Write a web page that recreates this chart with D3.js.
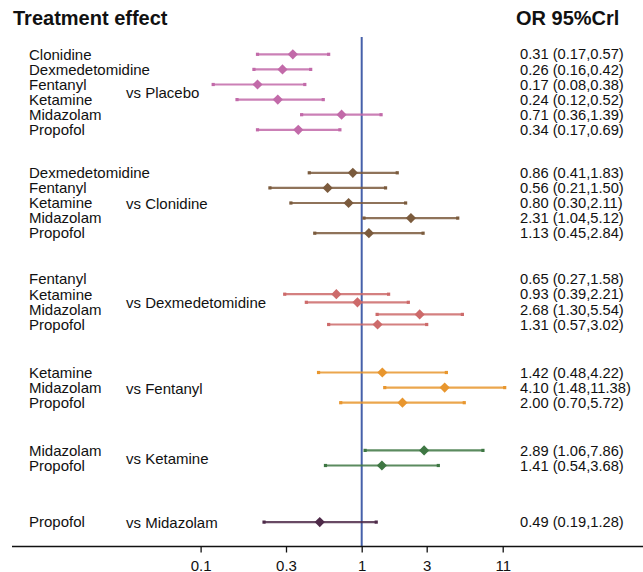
<!DOCTYPE html>
<html>
<head>
<meta charset="utf-8">
<script src="https://cdn.jsdelivr.net/npm/d3@7"></script>
<style>
  body { margin: 0; background: #fff; }
  text { font-family: Arial, "Liberation Sans", sans-serif; fill: #111; }
</style>
</head>
<body>
<script>
// Data: comparisons grouped by reference treatment
const comparators = ['Placebo', 'Clonidine', 'Dexmedetomidine', 'Fentanyl', 'Ketamine', 'Midazolam'];
const treatments = [
  ['Clonidine', 'Dexmedetomidine', 'Fentanyl', 'Ketamine', 'Midazolam', 'Propofol'],
  ['Dexmedetomidine', 'Fentanyl', 'Ketamine', 'Midazolam', 'Propofol'],
  ['Fentanyl', 'Ketamine', 'Midazolam', 'Propofol'],
  ['Ketamine', 'Midazolam', 'Propofol'],
  ['Midazolam', 'Propofol'],
  ['Propofol']
];
const orMean = [
  [0.31, 0.26, 0.17, 0.24, 0.71, 0.34],
  [0.86, 0.56, 0.80, 2.31, 1.13],
  [0.65, 0.93, 2.68, 1.31],
  [1.42, 4.10, 2.00],
  [2.89, 1.41],
  [0.49]
];
const orLow = [
  [0.17, 0.16, 0.08, 0.12, 0.36, 0.17],
  [0.41, 0.21, 0.30, 1.04, 0.45],
  [0.27, 0.39, 1.30, 0.57],
  [0.48, 1.48, 0.70],
  [1.06, 0.54],
  [0.19]
];
const orHigh = [
  [0.57, 0.42, 0.38, 0.52, 1.39, 0.69],
  [1.83, 1.50, 2.11, 5.12, 2.84],
  [1.58, 2.21, 5.54, 3.02],
  [4.22, 11.38, 5.72],
  [7.86, 3.68],
  [1.28]
];
const tickValues = [0.0646, 0.276, 1, 3.02, 11.0];
const tickLabels = ['0.1', '0.3', '1', '3', '11'];

// Layout
const W = 643, H = 572;
const colors = ['#c26aa9', '#7b5b3d', '#cd6a6a', '#e8962e', '#3e7743', '#4e2a49'];
const rowStep = 15.1;
const firstRowY = 54.3;
const gapPx = [0, 43, 46, 48, 47.7, 56.6];   // distance from last row of a group to first row of the next
// the original drew the vs-Dexmedetomidine intervals off their text rows
const markShift = [[], [], [15, 8, 5, 0], [], [], []];
const axisY = 546.5;

const fmt = d3.format('.2f');

const svg = d3.select('body').append('svg')
  .attr('width', W)
  .attr('height', H);

const x = d3.scaleLog()
  .domain([0.01, 100])
  .range([361.7 - 270.8, 361.7 + 270.8]);

// build row list with vertical slots
const rows = [];
const groupSpan = [];
let yCur = firstRowY;
comparators.forEach((c, g) => {
  if (g > 0) yCur += gapPx[g] - rowStep;
  const start = yCur;
  treatments[g].forEach((t, i) => {
    rows.push({
      g, name: t,
      mean: orMean[g][i], lo: orLow[g][i], hi: orHigh[g][i],
      y: yCur,
      my: yCur + (markShift[g][i] || 0)
    });
    yCur += rowStep;
  });
  groupSpan.push([start, yCur - rowStep]);
});

// Titles
svg.append('text')
  .attr('x', 13).attr('y', 25)
  .style('font-size', '20px').style('font-weight', 'bold')
  .text('Treatment effect');
svg.append('text')
  .attr('x', 516).attr('y', 25)
  .style('font-size', '20px').style('font-weight', 'bold')
  .text('OR 95%Crl');

// null line
svg.append('line')
  .attr('x1', x(1)).attr('x2', x(1))
  .attr('y1', 37).attr('y2', axisY)
  .attr('stroke', '#4660aa')
  .attr('stroke-width', 2);

// axis
svg.append('line')
  .attr('x1', 12).attr('x2', W)
  .attr('y1', axisY).attr('y2', axisY)
  .attr('stroke', '#111')
  .attr('stroke-width', 1.4);

const axis = svg.append('g')
  .attr('transform', `translate(0,${axisY})`)
  .call(d3.axisBottom(x)
    .tickValues(tickValues)
    .tickFormat((d, i) => tickLabels[i])
    .tickSize(6)
    .tickPadding(8));
axis.select('.domain').remove();
axis.selectAll('line').attr('stroke', '#111').attr('stroke-width', 1.3);
axis.selectAll('text')
  .attr('fill', '#111')
  .style('font-size', '15px')
  .style('font-family', 'Arial, "Liberation Sans", sans-serif');

// treatment labels
svg.selectAll('.tname')
  .data(rows)
  .join('text')
    .attr('class', 'tname')
    .attr('x', 29)
    .attr('y', d => d.y)
    .attr('dy', '0.35em')
    .style('font-size', '15px')
    .text(d => d.name);

// comparator labels
svg.selectAll('.cname')
  .data(comparators)
  .join('text')
    .attr('class', 'cname')
    .attr('x', 126)
    .attr('y', (d, g) => (groupSpan[g][0] + groupSpan[g][1]) / 2 + 1)
    .attr('dy', '0.35em')
    .style('font-size', '15px')
    .text(d => 'vs ' + d);

// OR text
svg.selectAll('.ortext')
  .data(rows)
  .join('text')
    .attr('class', 'ortext')
    .attr('x', 520)
    .attr('y', d => d.y)
    .attr('dy', '0.35em')
    .style('font-size', '14.7px')
    .text(d => `${fmt(d.mean)} (${fmt(d.lo)},${fmt(d.hi)})`);

// intervals
const marks = svg.selectAll('.ci')
  .data(rows)
  .join('g')
    .attr('class', 'ci');

marks.append('line')
  .attr('x1', d => x(d.lo))
  .attr('x2', d => x(d.hi))
  .attr('y1', d => d.my)
  .attr('y2', d => d.my)
  .attr('stroke', d => colors[d.g])
  .attr('stroke-opacity', 0.85)
  .attr('stroke-width', 2.2);

marks.selectAll('.cap')
  .data(d => [d.lo, d.hi].map(v => ({ v, d })))
  .join('rect')
    .attr('class', 'cap')
    .attr('x', e => x(e.v) - 1.6)
    .attr('y', e => e.d.my - 1.6)
    .attr('width', 3.2)
    .attr('height', 3.2)
    .attr('fill', e => colors[e.d.g]);

marks.append('path')
  .attr('d', d3.symbol(d3.symbolSquare, 52))
  .attr('transform', d => `translate(${x(d.mean)},${d.my}) rotate(45)`)
  .attr('fill', d => colors[d.g]);
</script>
</body>
</html>
